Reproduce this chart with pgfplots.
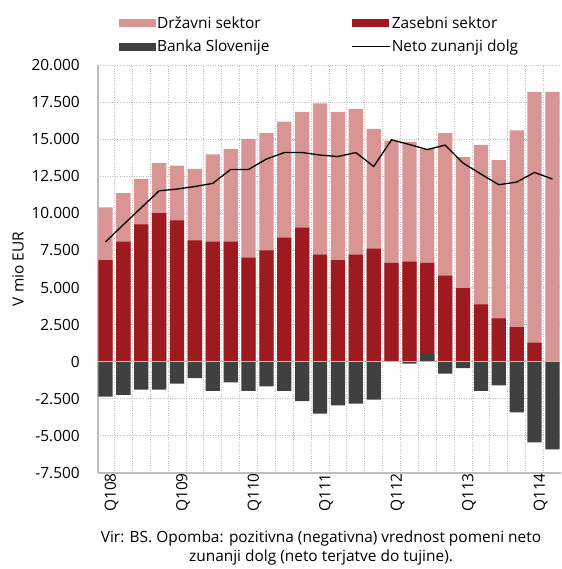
\documentclass[border=0pt]{standalone}
\usepackage{fontspec}
\setmainfont{Open Sans}
\usepackage{pgfplots}
\pgfplotsset{compat=1.18}
\usepackage{pgfplotstable}
\definecolor{pubc}{RGB}{217,149,148}
\definecolor{privc}{RGB}{157,27,32}
\definecolor{bsc}{RGB}{64,64,64}
\definecolor{gridc}{RGB}{190,190,190}

% tot = top of stacked bar (Drzavni + Zasebni), priv = top of Zasebni sektor
\pgfplotstableread{
x tot priv bs net
0 10400 6840 -2350 8070
1 11370 8090 -2240 9240
2 12330 9260 -1880 10380
3 13390 10020 -1880 11520
4 13210 9530 -1480 11640
5 13000 8180 -1100 11810
6 13970 8090 -1970 12020
7 14350 8090 -1390 12960
8 15020 7020 -1970 12960
9 15400 7510 -1660 13660
10 16190 8360 -1970 14100
11 16840 9040 -2650 14100
12 17420 7220 -3500 13930
13 16840 6840 -2940 13830
14 17040 7220 -2830 14100
15 15690 7620 -2560 13160
16 14910 6660 0 14960
17 14820 6750 -135 14640
18 14350 6660 530 14300
19 15400 5810 -810 14600
20 13790 4960 -430 13390
21 14620 3860 -1970 12650
22 13590 2920 -1590 11930
23 15600 2330 -3410 12110
24 18180 1280 -5430 12760
25 18180 0 -5900 12310
}\data

\begin{document}
\fontsize{15.5}{18}\selectfont
\begin{tikzpicture}
\path[use as bounding box] (-98bp,-96bp) rectangle (464bp,473bp);
\begin{axis}[
  at={(0,0)}, anchor=south west,
  scale only axis, width=462.5bp, height=408bp,
  xmin=-0.42, xmax=25.45, ymin=-7500, ymax=20000,
  ytick={-7500,-5000,...,20000},
  scaled y ticks=false,
  xtick={0,4,...,24},
  xticklabels={Q108,Q109,Q110,Q111,Q112,Q113,Q114},
  minor xtick={0.5,1.5,...,24.5},
  ymajorgrids, xminorgrids,
  major grid style={gridc, dotted, line width=0.9pt},
  minor grid style={gridc, dotted, line width=0.9pt},
  major tick length=0pt, minor tick length=0pt,
  axis x line*=bottom, axis y line*=left,
  axis line style={gridc, line width=1.2pt, -},
  yticklabel style={/pgf/number format/fixed, /pgf/number format/1000 sep={.},
    /pgf/number format/assume math mode=true,
    anchor=east, inner sep=0pt, xshift=-18bp},
  xticklabel style={rotate=90, anchor=east, inner sep=0pt, yshift=-6bp},
  every axis y label/.style={at={(axis description cs:-0.173,0.5)}, rotate=90, anchor=center},
  ylabel={V mio EUR},
  legend columns=2,
  legend cell align=left,
  legend style={at={(axis description cs:0.045,1.025)}, anchor=south west, draw=none, fill=none,
    inner sep=0pt, row sep=7bp, nodes={inner sep=1bp},
    /tikz/every even column/.append style={column sep=81bp}},
]
\addplot[ybar, bar width=0.8, bar shift=0pt, fill=pubc, draw=none,
  legend image code/.code={\fill[pubc] (0bp,-4bp) rectangle (37bp,4bp);}]
  table[x=x, y=tot]{\data};
\addlegendentry{Državni sektor}
\addplot[ybar, bar width=0.8, bar shift=0pt, fill=privc, draw=none,
  legend image code/.code={\fill[privc] (0bp,-4bp) rectangle (37bp,4bp);}]
  table[x=x, y=priv]{\data};
\addlegendentry{Zasebni sektor}
\addplot[ybar, bar width=0.8, bar shift=0pt, fill=bsc, draw=none,
  legend image code/.code={\fill[bsc] (0bp,-4bp) rectangle (37bp,4bp);}]
  table[x=x, y=bs]{\data};
\addlegendentry{Banka Slovenije}
\draw[gridc, line width=1.2pt] (axis cs:-0.42,0) -- (axis cs:25.45,0);
\addplot[black, line width=1.3pt, mark=none,
  legend image code/.code={\draw[black, line width=1.3pt] (0bp,0bp) -- (38bp,0bp);}]
  table[x=x, y=net]{\data};
\addlegendentry{Neto zunanji dolg}
\end{axis}
\node[align=center, font=\fontsize{15.5}{20}\selectfont] at (223bp,-75bp)
  {Vir: BS. Opomba: pozitivna (negativna) vrednost pomeni neto\\zunanji dolg (neto terjatve do tujine).};
\end{tikzpicture}
\end{document}
